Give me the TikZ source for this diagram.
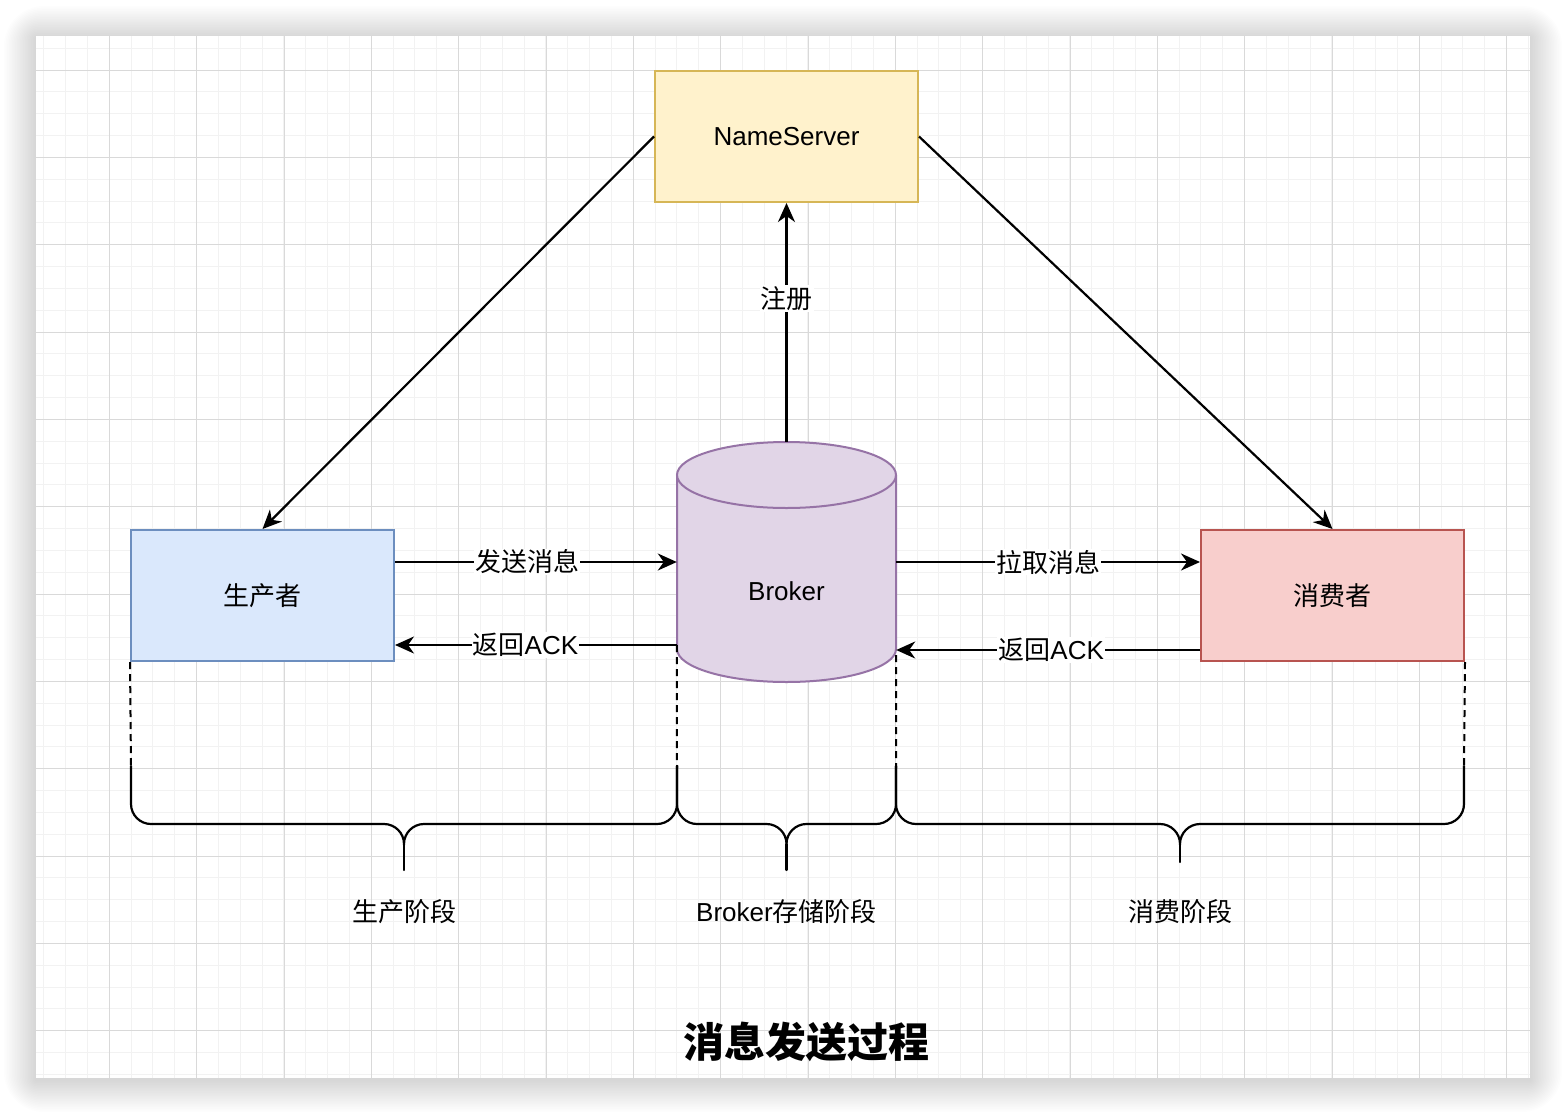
\documentclass[tikz,border=0pt]{standalone}
\usepackage{fontspec}
\setmainfont{Liberation Sans}
\newfontfamily\cjk{Noto Sans CJK SC}
\usetikzlibrary{arrows.meta}

\definecolor{nsfill}{HTML}{FFF2CC}
\definecolor{nsline}{HTML}{D6B656}
\definecolor{ppfill}{HTML}{DAE8FC}
\definecolor{ppline}{HTML}{6C8EBF}
\definecolor{csfill}{HTML}{F8CECC}
\definecolor{csline}{HTML}{B85450}
\definecolor{bkfill}{HTML}{E1D5E7}
\definecolor{bkline}{HTML}{9673A6}
\definecolor{minorgrid}{HTML}{F2F2F2}
\definecolor{majorgrid}{HTML}{D9D9D9}

\tikzset{
  box/.style={draw, line width=2pt, minimum width=263pt, minimum height=131pt, inner sep=0pt},
  arr/.style={line width=2.2pt, -{Stealth[length=19pt,width=17pt,inset=6pt]}},
  lbl/.style={fill=white, inner sep=1pt},
  brace/.style={line width=2.2pt, line cap=round},
  guide/.style={line width=2pt, dash pattern=on 7pt off 5pt},
}

% curly brace: left x, middle x, right x, tip y
\newcommand{\stagebrace}[4]{%
  \draw[brace] (#1,766) -- (#1,804) .. controls (#1,815) and ({#1+9},824) .. ({#1+20},824)
    -- ({#2-20},824) .. controls ({#2-9},824) and (#2,833) .. (#2,844)
    .. controls (#2,833) and ({#2+9},824) .. ({#2+20},824)
    -- ({#3-20},824) .. controls ({#3-9},824) and (#3,815) .. (#3,804) -- (#3,766);
  \draw[brace] (#2,844) -- (#2,#4);}

\begin{document}
\begin{tikzpicture}[x=1pt, y=-1pt, font=\fontsize{26}{30}\selectfont]
\useasboundingbox (0,0) rectangle (1566,1114);
\fill[white] (0,0) rectangle (1566,1114);

% shadow and grid paper
\foreach \r in {1,...,20}
  \fill[black, opacity=0.009, rounded corners=\r*2pt] ({36-1.6*\r},{38-1.6*\r}) rectangle ({1530+1.6*\r},{1080+1.6*\r});
\fill[white] (36,36) rectangle (1530,1078);
\begin{scope}
\clip (36,36) rectangle (1530,1078);
\foreach \k in {0,...,69} \draw[minorgrid, line width=1pt] ({22+21.833*\k},36) -- ({22+21.833*\k},1078);
\foreach \k in {-1,...,47} \draw[minorgrid, line width=1pt] (36,{70+21.833*\k}) -- (1530,{70+21.833*\k});
\foreach \k in {0,...,17} \draw[majorgrid, line width=1pt] ({22+87.333*\k},36) -- ({22+87.333*\k},1078);
\foreach \k in {0,...,11} \draw[majorgrid, line width=1pt] (36,{70+87.333*\k}) -- (1530,{70+87.333*\k});
\end{scope}

% boxes
\node[box, fill=nsfill, draw=nsline] (ns) at (786.5,136.5) {NameServer};
\node[box, fill=ppfill, draw=ppline] (pp) at (262.5,595.5) {\cjk 生产者};
\node[box, fill=csfill, draw=csline] (cs) at (1332.5,595.5) {\cjk 消费者};

% broker cylinder
\filldraw[fill=bkfill, draw=bkline, line width=2pt] (677,475) -- (677,649)
  .. controls (677,667.2) and (726,682) .. (786.5,682)
  .. controls (847,682) and (896,667.2) .. (896,649) -- (896,475);
\filldraw[fill=bkfill, draw=bkline, line width=2pt] (786.5,475) ellipse [x radius=109.5, y radius=33];
\node[minimum width=219pt, minimum height=240pt, inner sep=0pt] (broker) at (786.5,562) {};
\node (brokertxt) at (786.5,591) {Broker};

% connectors
\draw[arr] (broker.north) -- node[lbl, pos=0.6]{\cjk 注册} (ns.south);
\draw[arr] (ns.west) -- (pp.north);
\draw[arr] (ns.east) -- (cs.north);
\draw[arr] (pp.east |- broker.west) -- node[lbl, pos=0.47]{\cjk 发送消息} (broker.west);
\draw[arr] ([yshift=-83pt]broker.west) -- node[lbl, pos=0.537]{{\cjk 返回}ACK} ([yshift=-49.5pt]pp.east);
\draw[arr] (broker.east) -- node[lbl]{\cjk 拉取消息} (cs.west |- broker.east);
\draw[arr] ([yshift=-54.5pt]cs.west) -- node[lbl, pos=0.49]{{\cjk 返回}ACK} ([yshift=-88pt]broker.east);

% stages
\coordinate (s1) at (131,766);
\coordinate (s2) at (677,768);
\coordinate (s3) at (896,768);
\coordinate (s4) at (1464,766);
\draw[guide] (pp.south west) -- (s1);
\draw[guide] ([yshift=-83pt]broker.west) -- (s2);
\draw[guide] ([yshift=-93pt]broker.east) -- (s3);
\draw[guide] (cs.south east) -- (s4);
\stagebrace{131}{404}{677}{870}
\stagebrace{677}{786.5}{896}{870}
\stagebrace{896}{1180}{1464}{862}

\node (st1) at (404,912) {\cjk 生产阶段};
\node (st2) at (786.5,912) {Broker{\cjk 存储阶段}};
\node (st3) at (1180,912) {\cjk 消费阶段};

\node[font=\fontsize{41}{46}\selectfont\bfseries] (title) at (806,1042) {\cjk\bfseries 消息发送过程};
\end{tikzpicture}
\end{document}
